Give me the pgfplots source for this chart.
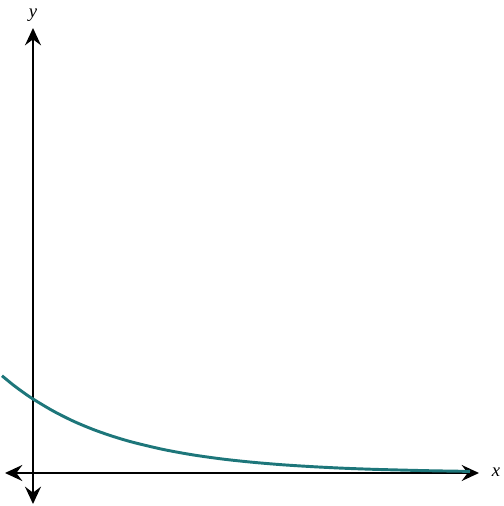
\documentclass[border=0pt]{standalone}
\usepackage{pgfplots}
\pgfplotsset{compat=1.18}
\usepackage{fontspec}
\setmainfont{Liberation Serif}
\usetikzlibrary{arrows.meta}
\definecolor{curveteal}{RGB}{29,118,122}
\begin{document}
\begin{tikzpicture}
\begin{axis}[
  x=0.75pt, y=0.75pt,
  axis lines=middle,
  xmin=-28, xmax=446, ymin=-31, ymax=445,
  xtick=\empty, ytick=\empty,
  clip=false,
  enlargelimits=false,
  axis line style={line width=1.5pt, {Stealth[length=13pt,width=12pt,inset=4.5pt]}-{Stealth[length=13pt,width=12pt,inset=4.5pt]}},
  xlabel={\fontsize{14}{16}\selectfont\textit{x}},
  ylabel={\fontsize{14}{16}\selectfont\textit{y}},
  every axis x label/.style={at={(axis cs:463,1)}, anchor=center, font=\fontsize{14}{16}\selectfont},
  every axis y label/.style={at={(axis cs:0,458)}, anchor=center, font=\fontsize{14}{16}\selectfont},
]
\addplot[curveteal, line width=2.2pt, smooth] coordinates {
(-31,97.2) (-20,88.2) (-10,80.8) (0,74) (20,62.1) (40,52.0) (60,43.6) (80,36.6)
(100,30.7) (130,23.6) (160,18.1) (190,13.9) (220,10.7) (250,8.2) (280,6.3)
(310,4.8) (340,3.7) (370,2.9) (400,2.2) (437,1.6)
};
\coordinate (ll) at (axis cs:-33,-33);
\coordinate (ur) at (axis cs:470,473);
\end{axis}
\pgfresetboundingbox
\path (ll) rectangle (ur);
\end{tikzpicture}
\end{document}
